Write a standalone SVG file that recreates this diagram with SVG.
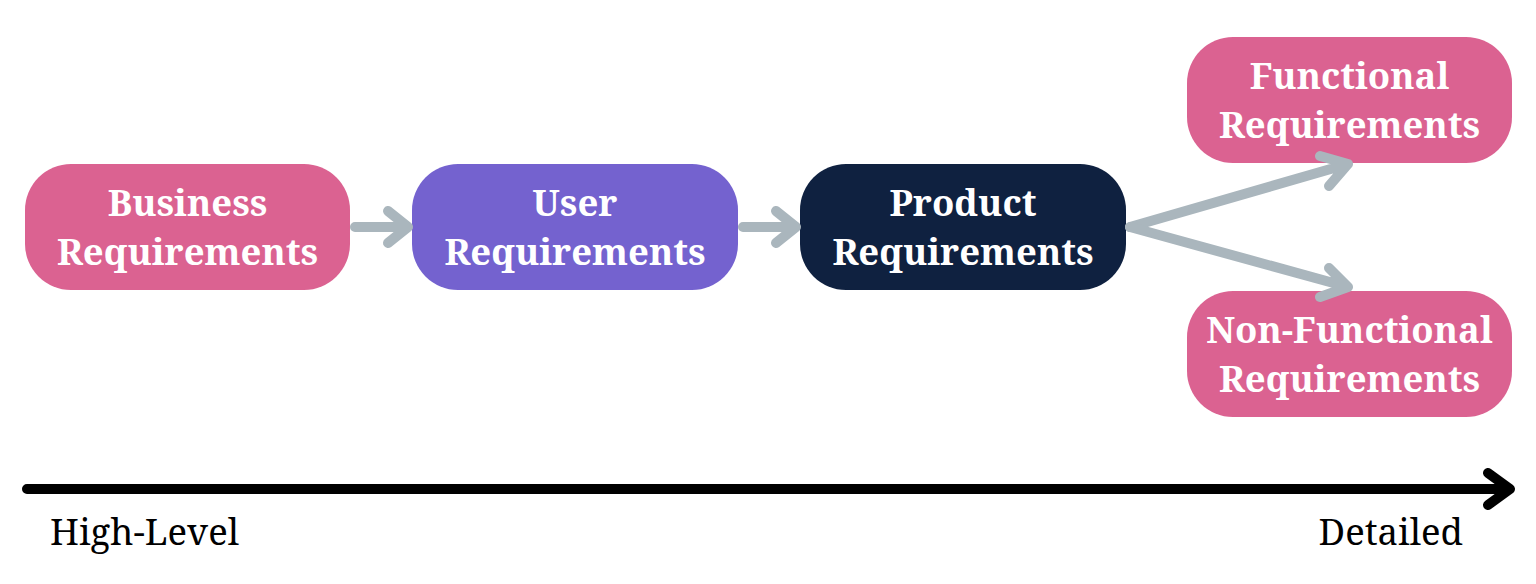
<svg xmlns="http://www.w3.org/2000/svg" width="1536" height="584" viewBox="0 0 1536 584">
<style>
.box{stroke:none}
.pink{fill:#DB6291}
.purple{fill:#7462CF}
.navy{fill:#0F2140}
.lbl{font-family:"Noto Serif","DejaVu Serif Condensed","DejaVu Serif","Liberation Serif",serif;font-weight:bold;font-size:36.5px;fill:#ffffff;text-anchor:middle}
.conn{fill:none;stroke:#AAB6BD;stroke-width:10;stroke-linecap:round;stroke-linejoin:round}
.axis{fill:none;stroke:#000;stroke-width:10;stroke-linecap:round;stroke-linejoin:round}
.axlbl{font-family:"Noto Serif","DejaVu Serif Condensed","DejaVu Serif","Liberation Serif",serif;font-size:36.5px;fill:#000}
</style>
<rect width="1536" height="584" fill="#ffffff"/>
<g id="business">
<rect class="box pink" x="25" y="164" width="325" height="126" rx="46"/>
<text class="lbl" x="187.5" y="216">Business</text>
<text class="lbl" x="187.5" y="265">Requirements</text>
</g>
<g id="user">
<rect class="box purple" x="412" y="164" width="326" height="126" rx="46"/>
<text class="lbl" x="575" y="216">User</text>
<text class="lbl" x="575" y="265">Requirements</text>
</g>
<g id="product">
<rect class="box navy" x="800" y="164" width="326" height="126" rx="46"/>
<text class="lbl" x="963" y="216">Product</text>
<text class="lbl" x="963" y="265">Requirements</text>
</g>
<g id="functional">
<rect class="box pink" x="1187" y="37" width="325" height="126" rx="46"/>
<text class="lbl" x="1349.5" y="89">Functional</text>
<text class="lbl" x="1349.5" y="138">Requirements</text>
</g>
<g id="nonfunctional">
<rect class="box pink" x="1187" y="291" width="325" height="126" rx="46"/>
<text class="lbl" x="1349.5" y="343">Non-Functional</text>
<text class="lbl" x="1349.5" y="392">Requirements</text>
</g>
<g id="connectors">
<path class="conn" d="M355 227H408M388 211L408 227L388 243"/>
<path class="conn" d="M743 227H796M776 211L796 227L776 243"/>
<path class="conn" d="M1130 227L1348 164M1320 156L1348 164L1329 186"/>
<path class="conn" d="M1130 227L1348 287M1329 268L1348 287L1320 297"/>
</g>
<g id="axis">
<path class="axis" d="M27 489H1508M1488 473L1510 489L1488 505"/>
<text class="axlbl" x="50" y="545">High-Level</text>
<text class="axlbl" x="1463" y="545" text-anchor="end">Detailed</text>
</g>
</svg>
